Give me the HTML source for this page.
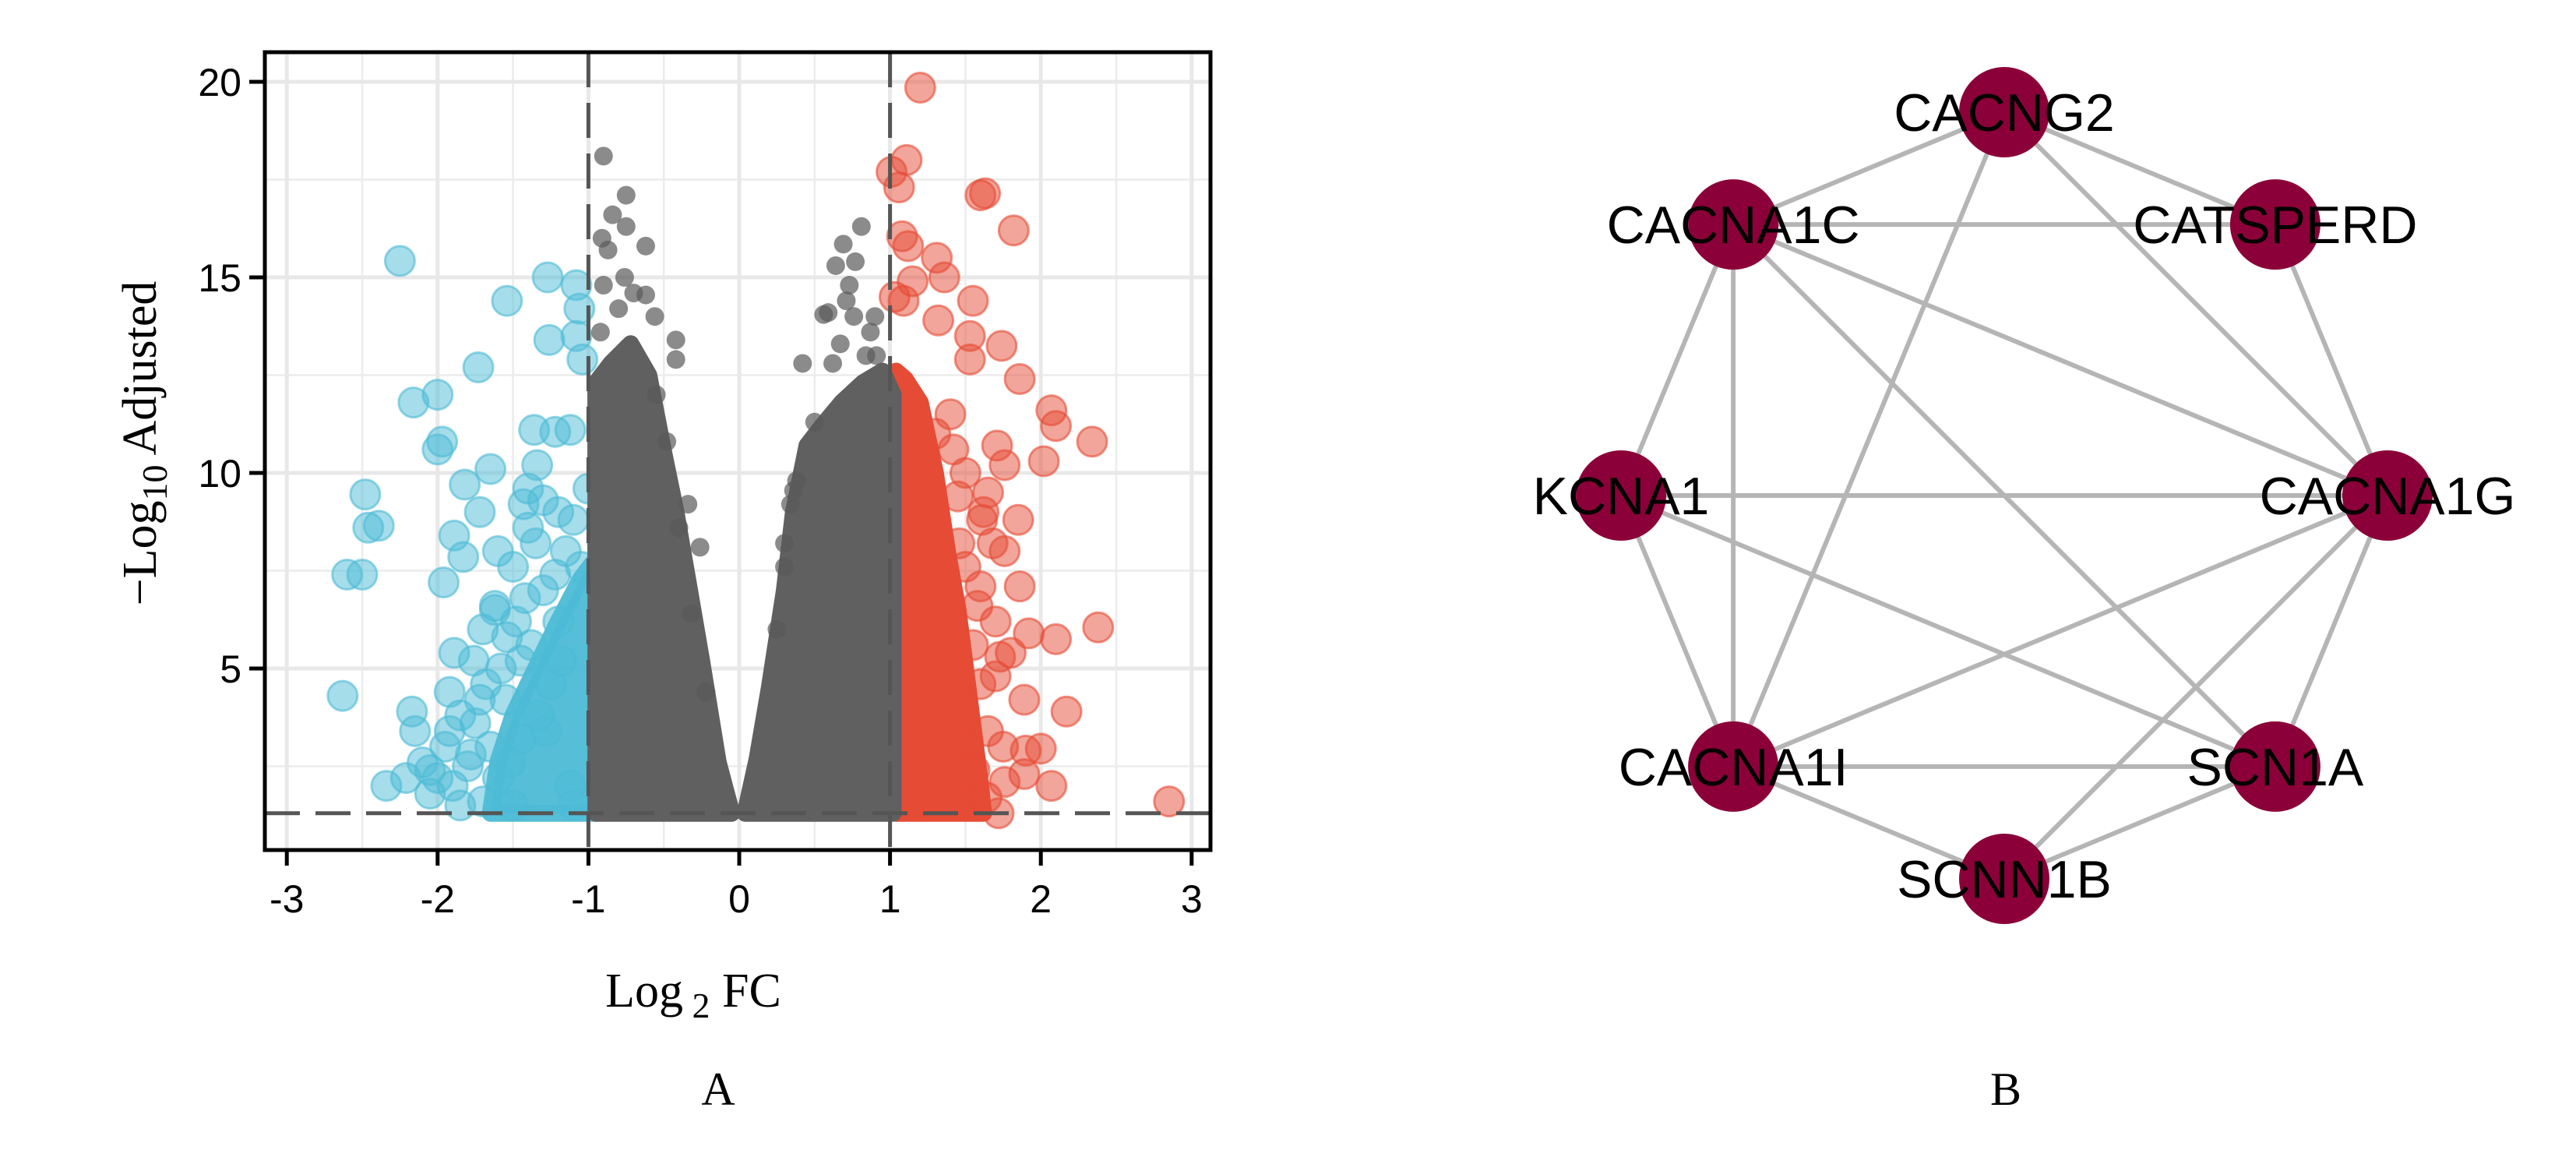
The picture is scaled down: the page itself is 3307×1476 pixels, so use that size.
<!DOCTYPE html>
<html><head><meta charset="utf-8"><style>
html,body{margin:0;padding:0;background:#fff;}
svg{display:block;}
</style></head><body>
<svg id="fig" width="3307" height="1476" viewBox="0 0 3307 1476" xmlns="http://www.w3.org/2000/svg">
<rect width="3307" height="1476" fill="#fff"/>
<g id="volcano"></g>
<g id="network"></g>
<text x="922" y="1418" font-family="Liberation Serif, serif" font-size="60" text-anchor="middle">A</text>
<text x="2575" y="1418" font-family="Liberation Serif, serif" font-size="60" text-anchor="middle">B</text>
</svg>
<script>
// ---- Volcano data ----
const xTicks = [-3,-2,-1,0,1,2,3];
const yTicks = [5,10,15,20];
const fcCut = [-1, 1];
const pCut = 1.3;
// dense-mass envelopes [log2FC, -log10 adj top]
const grayLeftEnv = [[-0.95,1.3],[-0.95,12.3],[-0.85,12.8],[-0.72,13.3],[-0.6,12.5],[-0.5,10.5],[-0.42,9],[-0.33,7],[-0.25,5.2],[-0.14,2.6],[-0.05,1.3]];
const grayRightEnv = [[0.04,1.3],[0.12,2.7],[0.2,4.5],[0.3,7],[0.36,9],[0.45,10.7],[0.55,11.2],[0.68,11.8],[0.82,12.3],[0.95,12.6],[1.02,12],[1.02,1.3]];
const redEnv = [[1.04,1.3],[1.04,12.6],[1.1,12.4],[1.2,11.8],[1.3,10],[1.38,8],[1.45,6.5],[1.5,5],[1.55,3.5],[1.6,2],[1.62,1.3]];
const blueEnv = [[-0.95,1.3],[-0.95,7.8],[-1.05,7.3],[-1.2,6.2],[-1.35,5],[-1.5,3.8],[-1.6,2.6],[-1.65,1.3]];
const blueX = [-2.25,-1.54,-1.27,-1.08,-1.06,-1.26,-1.08,-1.04,-1.73,-2.16,-2.0,-2.0,-1.97,-1.65,-1.36,-1.22,-1.12,-1.82,-1.72,-2.48,-2.46,-2.39,-2.6,-2.5,-1.89,-1.83,-1.96,-1.6,-1.43,-1.34,-2.63,-2.17,-2.15,-2.34,-2.21,-1.89,-1.76,-1.62,-1.92,-1.54,-1.4,-1.3,-1.2,-1.5,-1.7,-1.85,-2.05,
  -2.1,-2.0,-1.95,-1.9,-1.8,-1.75,-1.7,-1.68,-1.6,-1.55,-1.5,-1.45,-1.42,-1.38,-1.3,-1.25,-1.2,-1.15,-1.1,-1.05,-1.0,-1.85,-1.78,-1.65,-1.58,-1.48,-1.35,-1.28,-1.18,-1.12,-2.05,-1.92,-1.72,-1.62,-1.52,-1.45,-1.4,-1.33,-1.22,-1.1];
const blueY = [15.42,14.4,15.0,14.8,14.2,13.4,13.5,12.9,12.7,11.8,12.0,10.6,10.8,10.1,11.1,11.05,11.1,9.7,9.0,9.45,8.6,8.65,7.4,7.4,8.4,7.85,7.2,8.0,9.2,10.2,4.3,3.9,3.4,2.0,2.2,5.4,5.2,6.5,4.4,5.8,9.6,9.3,9.0,7.6,6.0,3.8,2.4,
  2.6,2.2,3.0,2.0,2.5,3.6,1.6,4.6,2.2,4.2,1.5,3.2,6.8,5.6,7.0,4.6,6.2,8.0,8.8,7.6,9.6,1.5,2.8,3.0,5.0,6.2,8.2,3.4,5.2,2.0,1.8,3.4,4.2,6.6,2.6,5.2,8.6,3.8,7.4,1.5];
const redX = [1.2,1.11,1.01,1.06,1.6,1.63,1.82,1.08,1.12,1.31,1.36,1.15,1.55,1.03,1.09,1.32,1.53,1.53,1.74,1.86,2.07,2.1,2.34,2.02,1.71,1.76,1.61,1.85,1.76,1.86,2.38,2.1,1.92,1.73,1.89,2.17,1.9,2.0,1.89,2.07,2.85,1.72,1.76,1.48,1.6,1.46,1.4,1.5,1.65,1.3,1.7,
  1.55,1.6,1.65,1.7,1.58,1.62,1.68,1.5,1.45,1.42,1.56,1.64,1.75,1.8];
const redY = [19.85,18.0,17.7,17.3,17.1,17.15,16.2,16.05,15.8,15.5,15.0,14.9,14.4,14.5,14.4,13.9,13.5,12.9,13.25,12.4,11.6,11.2,10.8,10.3,10.7,10.2,8.8,8.8,8.0,7.1,6.05,5.75,5.9,5.3,4.2,3.9,2.9,2.95,2.3,2.0,1.6,1.3,2.1,3.1,7.1,8.2,11.5,10.0,9.5,11.0,6.2,
  5.6,4.6,3.4,4.8,6.6,9.0,8.2,7.6,9.4,10.6,2.4,1.7,3.0,5.4];
const grayX = [-0.9,-0.75,-0.84,-0.75,-0.62,-0.91,-0.87,-0.76,-0.62,-0.9,-0.56,-0.42,-0.42,-0.92,-0.34,-0.26,-0.8,-0.7,0.81,0.69,0.64,0.77,0.73,0.71,0.56,0.59,0.76,0.9,0.87,0.67,0.62,0.42,0.84,0.91,0.36,0.34,0.5,0.3,-0.55,-0.48,-0.4,-0.32,-0.22,0.25,0.3,0.38];
const grayY = [18.1,17.1,16.6,16.3,15.8,16.0,15.7,15.0,14.55,14.8,14.0,13.4,12.9,13.6,9.2,8.1,14.2,14.6,16.3,15.85,15.3,15.4,14.8,14.4,14.05,14.1,14.0,14.0,13.6,13.3,12.8,12.8,13.0,13.0,9.55,9.2,11.3,8.2,12.0,10.8,8.6,6.4,4.4,6.0,7.6,9.8];

// ---- Network data ----
const nodeNames = ["CACNG2","CATSPERD","CACNA1G","SCN1A","SCNN1B","CACNA1I","KCNA1","CACNA1C"];
const edgeList = [["CACNG2","CACNA1C"],["CACNG2","CATSPERD"],["CACNG2","CACNA1G"],["CACNG2","CACNA1I"],["CACNA1C","CATSPERD"],["CACNA1C","KCNA1"],["CACNA1C","CACNA1I"],["CACNA1C","CACNA1G"],["CACNA1C","SCN1A"],["CATSPERD","CACNA1G"],["KCNA1","CACNA1G"],["KCNA1","CACNA1I"],["KCNA1","SCN1A"],["CACNA1G","CACNA1I"],["CACNA1G","SCNN1B"],["CACNA1G","SCN1A"],["CACNA1I","SCN1A"],["CACNA1I","SCNN1B"],["SCN1A","SCNN1B"]];

const NS = "http://www.w3.org/2000/svg";
function mk(tag, attrs, parent){const e=document.createElementNS(NS,tag);for(const k in attrs)e.setAttribute(k,attrs[k]);parent.appendChild(e);return e;}

const L=340,R=1554,T=67,B=1091;
const X = v => 949 + v*193.6;
const Y = v => 1109 - v*50.2;
const vg = document.getElementById('volcano');

const clip = mk('clipPath',{id:'pclip'},vg); mk('rect',{x:L,y:T,width:R-L,height:B-T},clip);
const grid = mk('g',{'clip-path':'url(#pclip)'},vg);


for(let i=0;i<xTicks.length-1;i++){const m=(xTicks[i]+xTicks[i+1])/2;const l=mk('line',{x1:X(m),x2:X(m),y1:T,y2:B,stroke:'#ececec','stroke-width':2.5},grid);

}
[2.5,7.5,12.5,17.5].forEach(m=>{const l=mk('line',{x1:L,x2:R,y1:Y(m),y2:Y(m),stroke:'#ececec','stroke-width':2.5},grid);

});
xTicks.forEach(t=>{const l=mk('line',{x1:X(t),x2:X(t),y1:T,y2:B,stroke:'#e8e8e8','stroke-width':5},grid);

});
yTicks.forEach(t=>{const l=mk('line',{x1:L,x2:R,y1:Y(t),y2:Y(t),stroke:'#e8e8e8','stroke-width':5},grid);

});

const pts = mk('g',{'clip-path':'url(#pclip)'},vg);


function env(arr,color,name,op){
  const d=arr.map((p,i)=>(i?'L':'M')+X(p[0]).toFixed(1)+','+Y(p[1]).toFixed(1)).join(' ')+' Z';
  const p=mk('path',{d:d,fill:color,stroke:color,'stroke-width':22,'stroke-linejoin':'round','fill-opacity':op,'stroke-opacity':op},pts);
  
  
}
env(blueEnv,'#4dbbd5','down-regulated-dense',0.95);
blueX.forEach((x,i)=>{const c=mk('circle',{cx:X(x),cy:Y(blueY[i]),r:19,fill:'#4dbbd5','fill-opacity':0.5,stroke:'#4dbbd5','stroke-opacity':0.6,'stroke-width':3},pts);

});
env(redEnv,'#e64b35','up-regulated-dense',1);
redX.forEach((x,i)=>{const c=mk('circle',{cx:X(x),cy:Y(redY[i]),r:19,fill:'#e64b35','fill-opacity':0.5,stroke:'#e64b35','stroke-opacity':0.6,'stroke-width':3},pts);

});
env(grayLeftEnv,'#606060','nonsig-left-dense',1);
env(grayRightEnv,'#606060','nonsig-right-dense',1);
grayX.forEach((x,i)=>{const c=mk('circle',{cx:X(x),cy:Y(grayY[i]),r:12,fill:'#5a5a5a','fill-opacity':0.7},pts);

});

const thr = mk('g',{'clip-path':'url(#pclip)',stroke:'#555','stroke-width':5,'stroke-dasharray':'45 20'},vg);


fcCut.forEach(c=>{const l=mk('line',{x1:X(c),x2:X(c),y1:T,y2:B},thr);

});
const hl=mk('line',{x1:L,x2:R,y1:Y(pCut),y2:Y(pCut)},thr);



const box=mk('rect',{x:L,y:T,width:R-L,height:B-T,fill:'none',stroke:'#000','stroke-width':5},vg);


xTicks.forEach(t=>{
  const l=mk('line',{x1:X(t),x2:X(t),y1:B,y2:B+20,stroke:'#000','stroke-width':5},vg);
  
  
  const tx=mk('text',{x:X(t),y:B+80,'font-family':'Liberation Sans, sans-serif','font-size':50,'text-anchor':'middle'},vg);
  tx.textContent=String(t);
  
  
});
yTicks.forEach(t=>{
  const l=mk('line',{x1:L-20,x2:L,y1:Y(t),y2:Y(t),stroke:'#000','stroke-width':5},vg);
  
  
  const tx=mk('text',{x:L-30,y:Y(t)+18,'font-family':'Liberation Sans, sans-serif','font-size':50,'text-anchor':'end'},vg);
  tx.textContent=String(t);
  
  
});
const xl=mk('text',{x:890,y:1292,'font-family':'Liberation Serif, serif','font-size':62,'text-anchor':'middle'},vg);
xl.innerHTML='Log<tspan dy="14" font-size="46"> 2</tspan><tspan dy="-14"> FC</tspan>';


const yl=mk('text',{x:0,y:0,'font-family':'Liberation Serif, serif','font-size':62,'text-anchor':'middle',transform:'translate(200,569) rotate(-90)'},vg);
yl.innerHTML='\u2212Log<tspan dy="14" font-size="46">10</tspan><tspan dy="-14"> Adjusted</tspan>';



// network layout: nodes on a circle
const ng=document.getElementById('network');
const cx0=2573, cy0=636, rad=492;
const pos={};
nodeNames.forEach((n,i)=>{const a=-Math.PI/2+i*Math.PI/4;pos[n]=[cx0+rad*Math.cos(a),cy0+rad*Math.sin(a)];});
const eg=mk('g',{stroke:'#b5b5b5','stroke-width':6},ng);


edgeList.forEach(e=>{const a=pos[e[0]],b=pos[e[1]];const l=mk('line',{x1:a[0],y1:a[1],x2:b[0],y2:b[1]},eg);

});
nodeNames.forEach(n=>{const p=pos[n];
  const c=mk('circle',{cx:p[0],cy:p[1],r:58,fill:'#8b0038'},ng);
  
  
});
nodeNames.forEach(n=>{const p=pos[n];
  const t=mk('text',{x:p[0],y:p[1]+24,'font-family':'Liberation Sans, sans-serif','font-size':68,'text-anchor':'middle',fill:'#000'},ng);
  t.textContent=n;
  
  
});
</script>
</body></html>
